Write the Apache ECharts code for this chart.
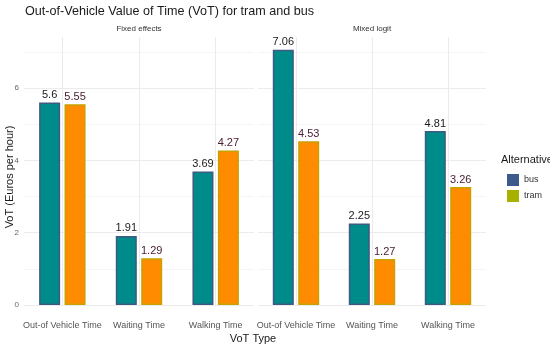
<!DOCTYPE html>
<html><head><meta charset="utf-8">
<script src="https://cdn.jsdelivr.net/npm/echarts@6/dist/echarts.min.js"></script>
<style>html,body{margin:0;padding:0;background:#fff}#c{width:550px;height:347px}</style>
</head><body><div id="c"></div>
<script>
var categories = ['Out-of Vehicle Time', 'Waiting Time', 'Walking Time'];
var busFixed = [5.6, 1.91, 3.69];
var tramFixed = [5.55, 1.29, 4.27];
var busMixed = [7.06, 2.25, 4.81];
var tramMixed = [4.53, 1.27, 3.26];
var yTicks = [0, 2, 4, 6];

var chart = echarts.init(document.getElementById('c'), null, {renderer: 'canvas'});
var font = 'Liberation Sans, Arial, sans-serif';

function yAxis(idx, showLabels) {
  return {
    type: 'value', gridIndex: idx, min: 0, max: 7.41, interval: 1,
    axisLine: {show: false}, axisTick: {show: false},
    axisLabel: {show: showLabels, fontSize: 8, color: '#666', fontFamily: font, margin: 5,
      formatter: function (v) { return yTicks.indexOf(v) >= 0 ? String(v) : ''; }},
    splitLine: {show: true, showMaxLine: false,
      lineStyle: {color: ['#ebebeb', '#f5f5f5'], width: 1}}
  };
}
function xAxis(idx) {
  return {
    type: 'category', gridIndex: idx, data: categories,
    axisLine: {show: false}, axisTick: {show: false}, splitLine: {show: false},
    axisLabel: {fontSize: 9, color: '#555', fontFamily: font, margin: 16, interval: 0}
  };
}
function gridLines(idx) {
  return {
    type: 'line', xAxisIndex: idx, yAxisIndex: idx, data: [], silent: true, z: 0,
    markLine: {silent: true, symbol: 'none', label: {show: false}, z: 0,
      lineStyle: {color: '#ebebeb', width: 1, type: 'solid'},
      emphasis: {disabled: true},
      data: categories.map(function (c) { return {xAxis: c}; })}
  };
}

function barSeries(name, data, idx, fill, border, labelColor) {
  return {
    name: name, type: 'bar', xAxisIndex: idx, yAxisIndex: idx, data: data,
    barWidth: 21, barGap: '21%', z: 2,
    itemStyle: {color: fill, borderColor: border, borderWidth: 1.5},
    label: {show: true, position: 'top', distance: 2, fontSize: 11, color: labelColor, fontFamily: font},
    emphasis: {disabled: true}
  };
}

chart.setOption({
  animation: false,
  backgroundColor: '#fff',
  grid: [
    {left: 24, top: 37, width: 230, bottom: 42},
    {left: 258, top: 37, width: 228, bottom: 42}
  ],
  xAxis: [xAxis(0), xAxis(1)],
  yAxis: [yAxis(0, true), yAxis(1, false)],
  legend: {
    left: 502, top: 169, orient: 'vertical', itemWidth: 12, itemHeight: 12, itemGap: 4,
    textStyle: {fontSize: 9, color: '#333', fontFamily: font},
    data: [
      {name: 'bus', icon: 'rect', itemStyle: {color: '#3E5A8C', borderWidth: 0}},
      {name: 'tram', icon: 'rect', itemStyle: {color: '#A8B000', borderWidth: 0}}
    ],
    selectedMode: false
  },
  graphic: [
    {type: 'text', left: 25, top: 5, style: {text: 'Out-of-Vehicle Value of Time (VoT) for tram and bus', fontSize: 12.6, fill: '#1a1a1a', fontFamily: font}},
    {type: 'text', x: 139, y: 29, style: {text: 'Fixed effects', fontSize: 8, fill: '#333', fontFamily: font, align: 'center', verticalAlign: 'middle'}},
    {type: 'text', x: 372, y: 29, style: {text: 'Mixed logit', fontSize: 8, fill: '#333', fontFamily: font, align: 'center', verticalAlign: 'middle'}},
    {type: 'text', x: 10, y: 177, rotation: Math.PI / 2, style: {text: 'VoT (Euros per hour)', fontSize: 11, fill: '#1a1a1a', fontFamily: font, align: 'center', verticalAlign: 'middle'}},
    {type: 'text', x: 253, y: 339, style: {text: 'VoT Type', fontSize: 11, fill: '#1a1a1a', fontFamily: font, align: 'center', verticalAlign: 'middle'}},
    {type: 'text', x: 501, y: 160, style: {text: 'Alternative', fontSize: 11, fill: '#1a1a1a', fontFamily: font, verticalAlign: 'middle'}}
  ],
  series: [
    gridLines(0),
    gridLines(1),
    barSeries('bus', busFixed, 0, '#008B8B', '#3D5A80', '#1a1a1a'),
    barSeries('tram', tramFixed, 0, '#FF8C00', '#C8A000', '#4a2035'),
    barSeries('bus', busMixed, 1, '#008B8B', '#3D5A80', '#1a1a1a'),
    barSeries('tram', tramMixed, 1, '#FF8C00', '#C8A000', '#4a2035')
  ]
});
</script></body></html>
